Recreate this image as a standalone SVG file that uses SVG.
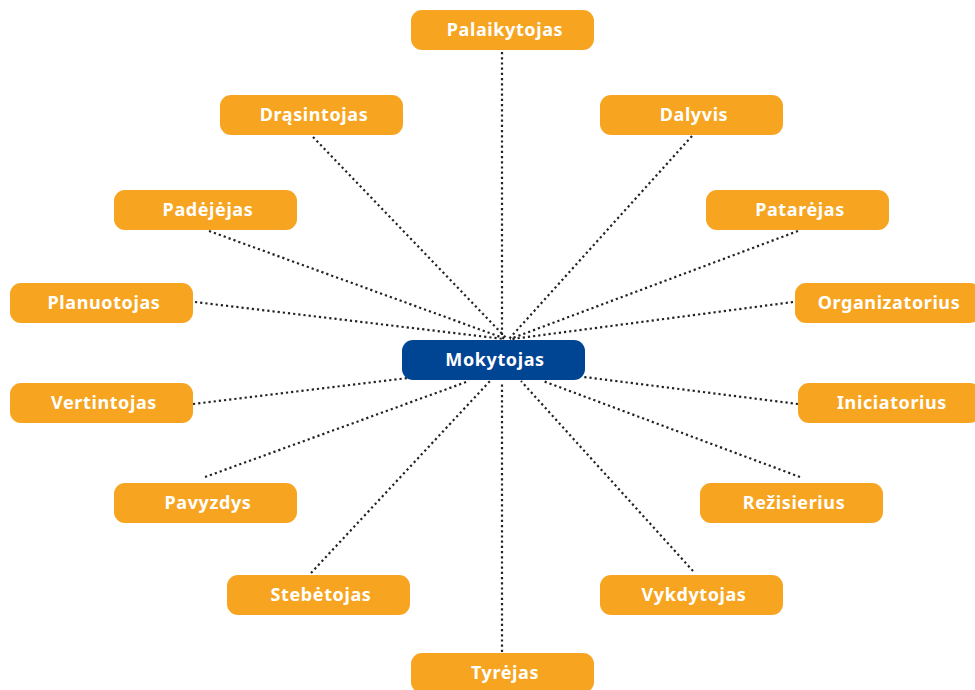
<svg xmlns="http://www.w3.org/2000/svg" width="975" height="690" viewBox="0 0 975 690">
<style>
.c line{stroke:#222222;stroke-width:2.2;stroke-dasharray:2.2 3;fill:none}
.n rect{fill:#F7A520}
.m rect{fill:#004494}
text{font-family:"Noto Sans","Liberation Sans",sans-serif;font-weight:bold;font-size:18px;fill:#ffffff;text-anchor:middle;letter-spacing:0.6px}
</style>
<rect width="975" height="690" fill="#ffffff"/>
<g class="c" id="connectors">
<line x1="502" y1="52" x2="502" y2="338"/>
<line x1="313" y1="137" x2="507" y2="339"/>
<line x1="692" y1="136" x2="509" y2="339"/>
<line x1="209" y1="231" x2="506" y2="339"/>
<line x1="798" y1="231" x2="510" y2="339"/>
<line x1="195" y1="302" x2="504" y2="339"/>
<line x1="793" y1="302" x2="512" y2="339"/>
<line x1="193" y1="404" x2="408" y2="378"/>
<line x1="798" y1="404" x2="584" y2="377"/>
<line x1="205" y1="477" x2="469" y2="381"/>
<line x1="800" y1="477" x2="543" y2="381"/>
<line x1="311" y1="573" x2="490" y2="381"/>
<line x1="693" y1="571" x2="521" y2="381"/>
<line x1="502" y1="652" x2="502" y2="382"/>
</g>
<g class="n" id="palaikytojas"><rect x="411" y="10" width="183" height="40" rx="11"/><text x="505" y="35.5">Palaikytojas</text></g>
<g class="n" id="drasintojas"><rect x="220" y="95" width="183" height="40" rx="11"/><text x="314" y="120.5">Drąsintojas</text></g>
<g class="n" id="dalyvis"><rect x="600" y="95" width="183" height="40" rx="11"/><text x="694" y="120.5">Dalyvis</text></g>
<g class="n" id="padejejas"><rect x="114" y="190" width="183" height="40" rx="11"/><text x="208" y="215.5">Padėjėjas</text></g>
<g class="n" id="patarejas"><rect x="706" y="190" width="183" height="40" rx="11"/><text x="800" y="215.5">Patarėjas</text></g>
<g class="n" id="planuotojas"><rect x="10" y="283" width="183" height="40" rx="11"/><text x="104" y="308.5">Planuotojas</text></g>
<g class="n" id="organizatorius"><rect x="795" y="283" width="186" height="40" rx="11"/><text x="889" y="308.5">Organizatorius</text></g>
<g class="m" id="mokytojas"><rect x="402" y="340" width="183" height="40" rx="11"/><text x="495" y="365.5">Mokytojas</text></g>
<g class="n" id="vertintojas"><rect x="10" y="383" width="183" height="40" rx="11"/><text x="104" y="408.5">Vertintojas</text></g>
<g class="n" id="iniciatorius"><rect x="798" y="383" width="183" height="40" rx="11"/><text x="892" y="408.5">Iniciatorius</text></g>
<g class="n" id="pavyzdys"><rect x="114" y="483" width="183" height="40" rx="11"/><text x="208" y="508.5">Pavyzdys</text></g>
<g class="n" id="rezisierius"><rect x="700" y="483" width="183" height="40" rx="11"/><text x="794" y="508.5">Režisierius</text></g>
<g class="n" id="stebetojas"><rect x="227" y="575" width="183" height="40" rx="11"/><text x="321" y="600.5">Stebėtojas</text></g>
<g class="n" id="vykdytojas"><rect x="600" y="575" width="183" height="40" rx="11"/><text x="694" y="600.5">Vykdytojas</text></g>
<g class="n" id="tyrejas"><rect x="411" y="653" width="183" height="40" rx="11"/><text x="505" y="678.5">Tyrėjas</text></g>
</svg>
